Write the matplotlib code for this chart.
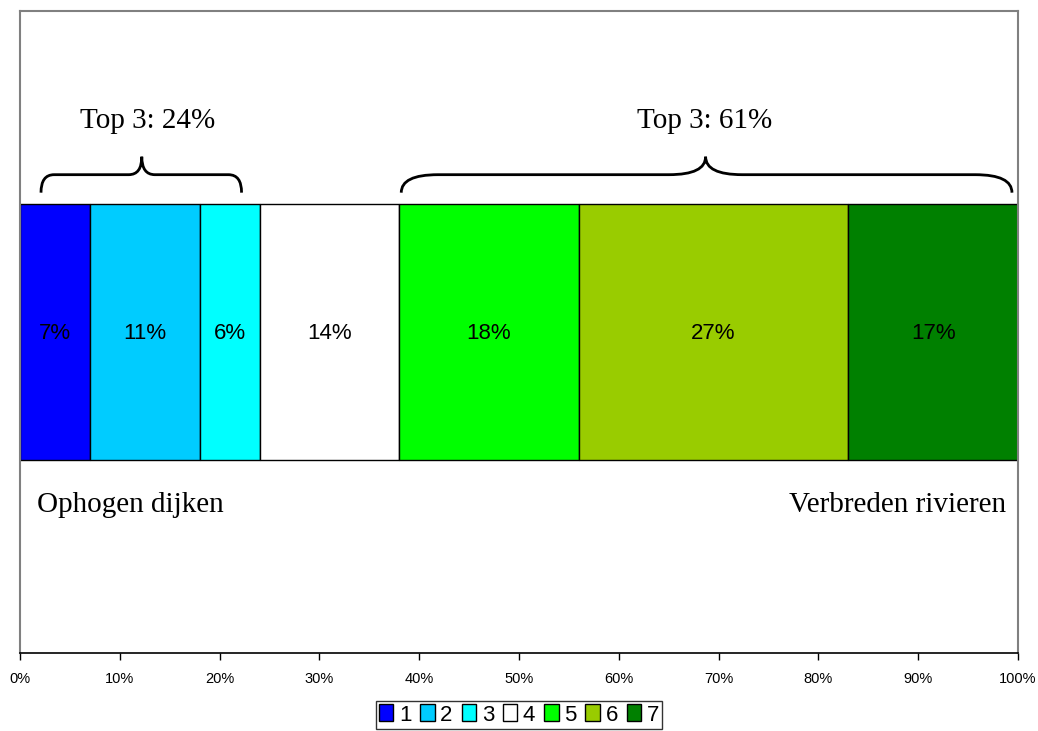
import matplotlib.pyplot as plt
from matplotlib.path import Path
from matplotlib.patches import PathPatch, Patch
from matplotlib.ticker import FuncFormatter

# Data
categories = ['1', '2', '3', '4', '5', '6', '7']
shares = [7, 11, 6, 14, 18, 27, 17]
colors = ['#0000FF', '#00CCFF', '#00FFFF', '#FFFFFF', '#00FF00', '#99CC00', '#008000']
top3_labels = ['Top 3: 24%', 'Top 3: 61%']
left_label = 'Ophogen dijken'
right_label = 'Verbreden rivieren'

fig = plt.figure(figsize=(10.38, 7.31), dpi=100)
ax = fig.add_axes([0.0193, 0.1067, 0.9614, 0.8783])

# Stacked horizontal bar
left = 0
for cat, val, col in zip(categories, shares, colors):
    ax.barh(0.5, val, left=left, height=0.4, color=col, edgecolor='black', linewidth=1.0)
    ax.text(left + val / 2, 0.497, f'{val}%', ha='center', va='center',
            fontsize=16, family='Liberation Sans')
    left += val

ax.set_xlim(0, 100)
ax.set_ylim(0, 1)


def brace(x0, x1, xp, y0, ym, yp, frac=0.065):
    # curly brace path in data coords
    dx = (x1 - x0) * frac
    verts = [(x0, y0), (x0, ym), (x0 + dx, ym),
             (xp - dx, ym), (xp, ym), (xp, yp),
             (xp, ym), (xp + dx, ym),
             (x1 - dx, ym), (x1, ym), (x1, y0)]
    codes = [Path.MOVETO, Path.CURVE3, Path.CURVE3,
             Path.LINETO, Path.CURVE3, Path.CURVE3,
             Path.CURVE3, Path.CURVE3,
             Path.LINETO, Path.CURVE3, Path.CURVE3]
    return PathPatch(Path(verts, codes), fill=False, edgecolor='black', lw=2)


ax.add_patch(brace(2.1, 22.2, 12.2, 0.717, 0.745, 0.773))
ax.add_patch(brace(38.2, 99.4, 68.7, 0.717, 0.745, 0.773, frac=0.06))

ax.text(12.8, 0.828, top3_labels[0], ha='center', va='center', fontsize=21, family='Liberation Serif')
ax.text(68.6, 0.828, top3_labels[1], ha='center', va='center', fontsize=21, family='Liberation Serif')
ax.text(1.7, 0.23, left_label, ha='left', va='center', fontsize=21, family='Liberation Serif')
ax.text(98.8, 0.23, right_label, ha='right', va='center', fontsize=21, family='Liberation Serif')

# Axes styling
ax.set_yticks([])
ax.set_xticks(range(0, 101, 10))
ax.xaxis.set_major_formatter(FuncFormatter(lambda v, p: f'{int(v)}%'))
ax.tick_params(axis='x', direction='out', length=5, width=1, labelsize=10.5, pad=9)
for lbl in ax.get_xticklabels():
    lbl.set_family('Liberation Sans')
for s in ['top', 'left', 'right']:
    ax.spines[s].set_color('#808080')
    ax.spines[s].set_linewidth(1.5)
ax.spines['bottom'].set_color('black')
ax.spines['bottom'].set_linewidth(1.2)

handles = [Patch(facecolor=c, edgecolor='black', label=cat) for cat, c in zip(categories, colors)]
leg = fig.legend(handles=handles, loc='upper center', bbox_to_anchor=(0.5, 0.041), ncol=7,
                 frameon=True, fancybox=False, edgecolor='black', handlelength=0.65,
                 handleheight=0.8, handletextpad=0.25, columnspacing=0.4, borderpad=0.15,
                 borderaxespad=0, prop={'family': 'Liberation Sans', 'size': 16})
leg.get_frame().set_linewidth(1.0)

fig.savefig('out.png', dpi=100)
